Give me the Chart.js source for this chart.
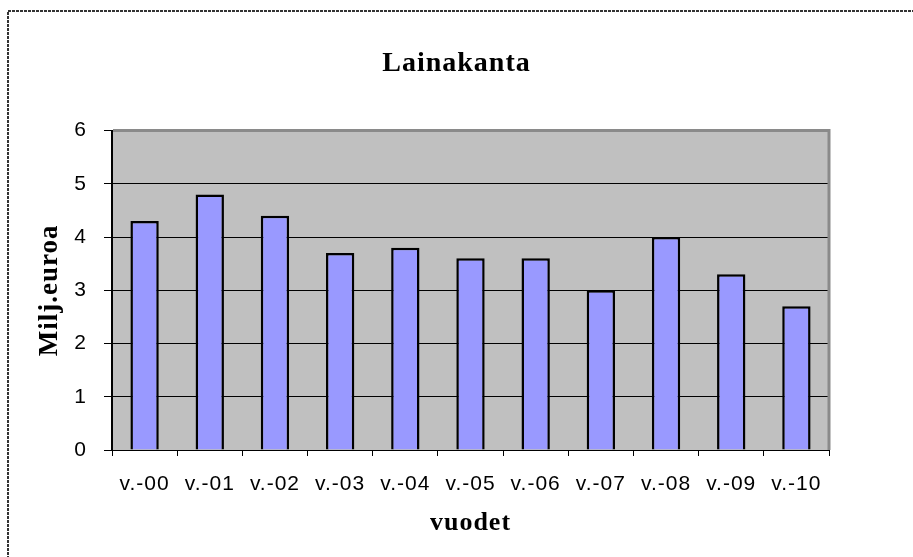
<!DOCTYPE html>
<html>
<head>
<meta charset="utf-8">
<script src="https://cdn.jsdelivr.net/npm/chart.js@4"></script>
<style>
  body { margin: 0; background: #fff; }
  canvas { display: block; }
</style>
</head>
<body>
<canvas id="myChart" width="913" height="557"></canvas>
<script>
// data
const vuodet = ['v.-00', 'v.-01', 'v.-02', 'v.-03', 'v.-04', 'v.-05', 'v.-06', 'v.-07', 'v.-08', 'v.-09', 'v.-10'];
const lainakanta = [4.3, 4.8, 4.4, 3.7, 3.8, 3.6, 3.6, 3.0, 4.0, 3.3, 2.7];
const yTicks = [0, 1, 2, 3, 4, 5, 6];

// letter spacing like the old Excel picture, plus gray plot area and frame
const excelLook = {
    id: 'excelLook',
    beforeLayout(chart) {
        chart.ctx.letterSpacing = '1px';
    },
    beforeDraw(chart) {
        const ctx = chart.ctx;
        const a = chart.chartArea;
        ctx.letterSpacing = '1px';
        ctx.save();
        ctx.fillStyle = '#fff';
        ctx.fillRect(0, 0, chart.width, chart.height);
        // outer frame
        ctx.strokeStyle = '#333';
        ctx.lineWidth = 2;
        ctx.setLineDash([3, 1]);
        ctx.strokeRect(8, 11, chart.width + 10, chart.height + 10);
        ctx.setLineDash([]);
        ctx.fillStyle = '#c0c0c0';
        ctx.fillRect(a.left, a.top, a.right - a.left, a.bottom - a.top);
        ctx.restore();
    },
    afterDraw(chart) {
        const ctx = chart.ctx;
        const a = chart.chartArea;
        ctx.save();
        ctx.strokeStyle = '#8a8a8a';
        ctx.lineWidth = 3;
        ctx.beginPath();
        ctx.moveTo(a.left + 1, a.top);
        ctx.lineTo(a.right, a.top);
        ctx.lineTo(a.right, a.bottom);
        ctx.stroke();
        ctx.restore();
    }
};

const serif = '"Liberation Serif", "Times New Roman", serif';
const sans = '"Liberation Sans", Arial, sans-serif';

const ctx = document.getElementById('myChart').getContext('2d');
const myChart = new Chart(ctx, {
    type: 'bar',
    data: {
        labels: vuodet,
        datasets: [{
            label: 'Lainakanta',
            data: lainakanta,
            backgroundColor: '#9999ff',
            borderColor: '#000',
            borderWidth: 2.5,
            categoryPercentage: 1,
            barPercentage: 0.435
        }]
    },
    options: {
        responsive: false,
        animation: false,
        layout: { padding: 0 },
        plugins: {
            legend: { display: false },
            tooltip: { enabled: false },
            title: {
                display: true,
                text: 'Lainakanta',
                color: '#000',
                font: { family: serif, size: 28, weight: 'bold' },
                padding: { top: 47, bottom: 50 }
            }
        },
        scales: {
            x: {
                grid: {
                    offset: true,
                    drawOnChartArea: false,
                    drawTicks: true,
                    tickLength: 6,
                    color: '#000'
                },
                border: { color: '#000', width: 1 },
                ticks: {
                    color: '#000',
                    padding: 16,
                    maxRotation: 0,
                    autoSkip: false,
                    font: { family: sans, size: 21 }
                },
                title: {
                    display: true,
                    text: 'vuodet',
                    color: '#000',
                    font: { family: serif, size: 26, weight: 'bold' },
                    padding: { top: 0, bottom: 18 }
                },
                afterFit(scale) { scale.height = 107; }
            },
            y: {
                min: 0,
                max: 6,
                afterBuildTicks(scale) {
                    scale.ticks = yTicks.map(v => ({ value: v }));
                },
                grid: {
                    color: c => (c.tick && c.tick.value === 6) ? 'rgba(0,0,0,0)' : '#000',
                    tickColor: '#000',
                    tickLength: 8,
                    lineWidth: 1
                },
                border: { color: '#000', width: 2 },
                ticks: {
                    color: '#000',
                    padding: 17,
                    font: { family: sans, size: 21 }
                },
                title: {
                    display: true,
                    text: 'Milj.euroa',
                    color: '#000',
                    font: { family: serif, size: 27, weight: 'bold' },
                    padding: { top: 34, bottom: 0 }
                },
                afterFit(scale) { scale.width = 112; }
            },
            // empty right axis, only keeps the space right of the plot
            yRight: {
                position: 'right',
                min: 0,
                max: 6,
                grid: { display: false },
                border: { display: false },
                ticks: { display: false },
                afterFit(scale) { scale.width = 84; }
            }
        }
    },
    plugins: [excelLook]
});
</script>
</body>
</html>
